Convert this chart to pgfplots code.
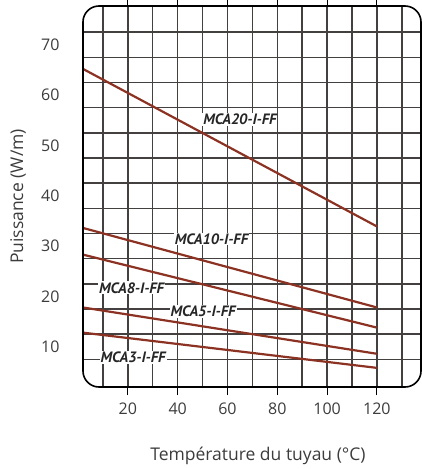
\documentclass[border=0pt]{standalone}
\usepackage{pgfplots}
\pgfplotsset{compat=1.18}
\usepackage{fontspec}
\setmainfont{Open Sans}
\newfontfamily\lblfont{PT Sans}
\definecolor{txt}{HTML}{3C3C3C}
\definecolor{curve}{RGB}{140,50,35}
\definecolor{gridc}{HTML}{444040}
\begin{document}
\begin{tikzpicture}
\begin{axis}[
  scale only axis, width=338pt, height=381pt,
  xmin=2, xmax=137.7, ymin=2, ymax=77.7,
  axis line style={draw=none},
  xtick={20,40,...,120}, ytick={10,20,...,70},
  minor xtick={10,30,...,130},
  minor ytick={7.5,12.5,...,72.5},
  xmajorgrids, xminorgrids, yminorgrids,
  major grid style={color=gridc, line width=1.5pt},
  minor grid style={color=gridc, line width=1.5pt},
  tick align=outside, major tick length=8pt, minor tick length=0pt,
  xtick style={black, line width=1pt},
  ytick style={draw=none},
  /pgf/number format/assume math mode=true,
  tick label style={font=\fontsize{16}{19}\selectfont, text=txt},
  xticklabel style={yshift=-4pt},
  yticklabel style={xshift=-12pt},
  xlabel={Température du tuyau (°C)},
  ylabel={Puissance (W/m)},
  every axis x label/.style={at={([shift={(175pt,-69pt)}]axis description cs:0,0)}, anchor=center, font=\fontsize{17.5}{20}\selectfont, text=txt},
  every axis y label/.style={at={([xshift=-65pt]axis description cs:0,0.5)}, anchor=center, rotate=90, font=\fontsize{17.5}{20}\selectfont, text=txt},
  clip=false,
]
\addplot[curve, line width=2.2pt] coordinates {(2,65.2) (120,33.9)};
\addplot[curve, line width=2.2pt] coordinates {(2,33.6) (120,17.8)};
\addplot[curve, line width=2.2pt] coordinates {(2,28.3) (120,13.8)};
\addplot[curve, line width=2.2pt] coordinates {(2,17.8) (120,8.6)};
\addplot[curve, line width=2.2pt] coordinates {(2,12.8) (120,5.8)};
\begin{scope}[every node/.style={font=\lblfont\fontsize{15}{17}\selectfont\bfseries\itshape, text=black!85, fill=white, inner sep=1pt}]
\node at (axis cs:65,55.1) {MCA20-I-FF};
\node at (axis cs:53.6,31.4) {MCA10-I-FF};
\node at (axis cs:21.5,21.7) {MCA8-I-FF};
\node at (axis cs:50.2,17.0) {MCA5-I-FF};
\node at (axis cs:22.1,7.9) {MCA3-I-FF};
\end{scope}
\fill[white, even odd rule] (rel axis cs:0,0) rectangle (rel axis cs:1,1)
  [rounded corners=16pt] (rel axis cs:0,0) rectangle (rel axis cs:1,1);
\draw[line width=1.6pt, rounded corners=16pt] (rel axis cs:0,0) rectangle (rel axis cs:1,1);
\end{axis}
\pgfresetboundingbox
\path (-83pt,-82pt) rectangle (339pt,387pt);
\end{tikzpicture}
\end{document}
